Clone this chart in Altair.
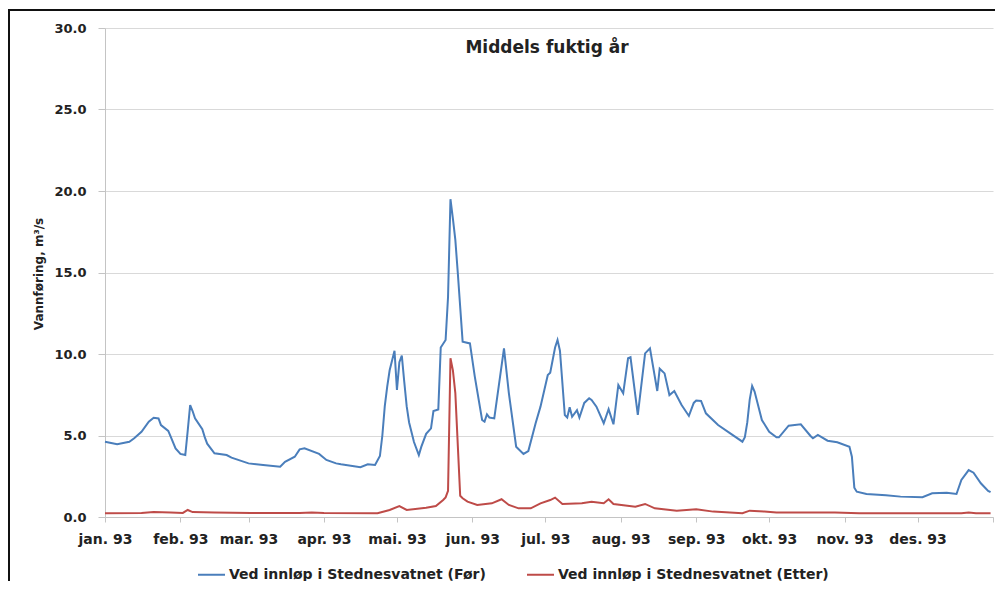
import altair as alt
import pandas as pd

series_names = ["Ved innløp i Stednesvatnet (Før)", "Ved innløp i Stednesvatnet (Etter)"]
series_colors = ["#4A7EBB", "#BE4B48"]
chart_title = "Middels fuktig år"

# day of year (0 = 1 Jan 1993) and discharge, m3/s
before_days = [0, 5, 10, 12, 15, 18, 20, 22, 23, 26, 27, 29,
               31, 33, 34, 35, 36, 37, 40, 41, 42, 45, 50, 52,
               59, 65, 72, 74, 78, 80, 82, 88,
               91, 95, 97, 105, 108, 111, 113, 114, 115, 116, 117, 118, 119,
               120, 121, 122, 123, 124, 125, 127, 129, 130, 132, 134, 135, 137, 138, 140,
               141, 142, 143, 144, 145, 147, 150,
               152, 155, 156, 157, 158, 160, 164, 166, 169, 172, 174, 177, 179,
               182, 183, 185, 186, 187, 189, 190, 191, 192, 194, 195, 197, 199, 200, 202,
               205, 207, 209, 211,
               213, 215, 216, 219, 222, 224, 227, 228, 230, 232, 234, 237, 240, 242,
               243, 245, 247, 252, 257, 262, 263, 264, 265, 266, 267, 270,
               273, 276, 277, 281, 286, 290, 291, 293, 297, 301,
               306, 307, 308, 309, 313, 321, 327,
               336, 340, 346, 350, 352, 355, 357, 360, 363, 364]
before_vals = [4.62, 4.46, 4.62, 4.83, 5.23, 5.85, 6.09, 6.05, 5.64, 5.28, 4.93, 4.21,
               3.87, 3.80, 5.30, 6.87, 6.50, 6.05, 5.38, 4.90, 4.50, 3.91, 3.80, 3.64,
               3.29, 3.19, 3.09, 3.39, 3.70, 4.15, 4.21, 3.87,
               3.50, 3.29, 3.23, 3.05, 3.23, 3.19, 3.74, 5.00, 6.80, 8.00, 9.00, 9.60, 10.20,
               7.80, 9.50, 9.90, 8.30, 6.80, 5.80, 4.60, 3.80, 4.30, 5.10, 5.44, 6.50, 6.60, 10.40, 10.86,
               13.50, 19.50, 18.30, 17.00, 15.00, 10.76, 10.65,
               8.61, 5.95, 5.85, 6.30, 6.10, 6.05, 10.35, 7.60, 4.31, 3.87, 4.05, 5.75, 6.77,
               8.71, 8.85, 10.40, 10.86, 10.20, 6.26, 6.10, 6.73, 6.15, 6.56, 6.10, 7.00, 7.28, 7.18, 6.77,
               5.75, 6.61, 5.69, 8.10,
               7.59, 9.74, 9.80, 6.26, 10.04, 10.35, 7.73, 9.10, 8.81, 7.48, 7.73, 6.87, 6.20, 7.00,
               7.14, 7.12, 6.36, 5.64, 5.13, 4.62, 4.90, 5.80, 7.20, 8.04, 7.70, 5.95,
               5.23, 4.89, 4.89, 5.60, 5.69, 4.97, 4.83, 5.03, 4.68, 4.58,
               4.31, 3.70, 1.80, 1.55, 1.41, 1.33, 1.25,
               1.21, 1.45, 1.49, 1.41, 2.27, 2.88, 2.72, 2.07, 1.60, 1.52]

after_days = [0, 15, 20, 27, 32, 34, 36, 45, 60, 80, 85, 90,
              112, 117, 121, 124, 132, 136, 139, 140, 141, 142, 143, 144, 146, 147, 149,
              153, 159, 163, 166, 170, 175, 179, 183, 185, 188, 196, 200, 205, 207, 209,
              218, 222, 226, 235, 243, 250, 262, 265, 271, 276, 300, 310, 352, 355, 358, 364]
after_vals = [0.23, 0.25, 0.30, 0.28, 0.25, 0.43, 0.30, 0.27, 0.24, 0.25, 0.28, 0.24,
              0.23, 0.43, 0.67, 0.43, 0.57, 0.67, 1.04, 1.20, 1.60, 9.74, 9.00, 7.60, 1.30, 1.15, 0.94,
              0.74, 0.84, 1.09, 0.74, 0.53, 0.53, 0.84, 1.04, 1.19, 0.80, 0.84, 0.94, 0.84, 1.09, 0.80,
              0.63, 0.80, 0.53, 0.39, 0.47, 0.33, 0.23, 0.39, 0.33, 0.27, 0.27, 0.23, 0.23, 0.27, 0.23, 0.23]

month_starts = [0, 31, 59, 90, 120, 151, 181, 212, 243, 273, 304, 334, 365]
month_labels = ["jan. 93", "feb. 93", "mar. 93", "apr. 93", "mai. 93", "jun. 93",
                "jul. 93", "aug. 93", "sep. 93", "okt. 93", "nov. 93", "des. 93", ""]
y_ticks = [0, 5, 10, 15, 20, 25, 30]

assert len(before_days) == len(before_vals)
assert len(after_days) == len(after_vals)

df = pd.concat([
    pd.DataFrame({"day": before_days, "value": before_vals, "series": series_names[0]}),
    pd.DataFrame({"day": after_days, "value": after_vals, "series": series_names[1]}),
], ignore_index=True)

label_expr = ("[" + ",".join("'" + s + "'" for s in month_labels) + "][indexof(["
              + ",".join(str(d) for d in month_starts) + "], datum.value)]")

FONT = "DejaVu Sans"
TXT = "#222222"
W, H = 888, 489

lines = alt.Chart(df).mark_line(strokeWidth=2).encode(
    x=alt.X("day:Q",
            scale=alt.Scale(domain=[0, 365], nice=False, zero=False),
            axis=alt.Axis(values=month_starts, labelExpr=label_expr, title=None, grid=False,
                          tickSize=5, tickColor="#c4c4c4", domainColor="#c4c4c4",
                          labelFont=FONT, labelFontWeight="bold", labelFontSize=14,
                          labelColor=TXT, labelPadding=10, labelFlush=False, labelOverlap=False)),
    y=alt.Y("value:Q",
            scale=alt.Scale(domain=[0, 30], nice=False),
            axis=alt.Axis(values=y_ticks, format=".1f", title="Vannføring, m³/s",
                          grid=True, gridColor="#d9d9d9", tickSize=7, tickColor="#c4c4c4",
                          domainColor="#c4c4c4", labelFont=FONT, labelFontWeight="bold",
                          labelFontSize=13, labelColor=TXT, labelPadding=12,
                          titleFont=FONT, titleFontWeight="bold", titleFontSize=12,
                          titleColor=TXT, titleX=-60, titleY=H / 2 + 1, titleAngle=270)),
    color=alt.Color("series:N",
                    scale=alt.Scale(domain=series_names, range=series_colors),
                    sort=series_names,
                    legend=alt.Legend(title=None, orient="none", direction="horizontal",
                                      legendX=92, legendY=532, symbolType="stroke",
                                      symbolSize=729, symbolStrokeWidth=2, labelOffset=3,
                                      columnPadding=37, padding=0,
                                      labelFont=FONT, labelFontWeight="bold", labelFontSize=14,
                                      labelColor=TXT, labelLimit=400)),
)

title_text = alt.Chart(pd.DataFrame({"t": [chart_title]})).mark_text(
    font=FONT, fontSize=17, fontWeight="bold", color=TXT, align="center", baseline="alphabetic"
).encode(text="t:N", x=alt.value(W / 2 - 2), y=alt.value(25))

frame = alt.Chart(pd.DataFrame({"f": [0]})).mark_rect(
    filled=False, stroke="#111111", strokeWidth=2, clip=False
).encode(x=alt.value(-96), x2=alt.value(1200), y=alt.value(-18), y2=alt.value(900))

chart = alt.layer(lines, title_text, frame).properties(
    width=W, height=H,
    autosize=alt.AutoSizeParams(type="none"),
    padding={"left": 97, "top": 20, "right": 2, "bottom": 64},
).configure_view(stroke=None)

chart.save("out.html", embed_options={"renderer": "svg", "actions": False})
